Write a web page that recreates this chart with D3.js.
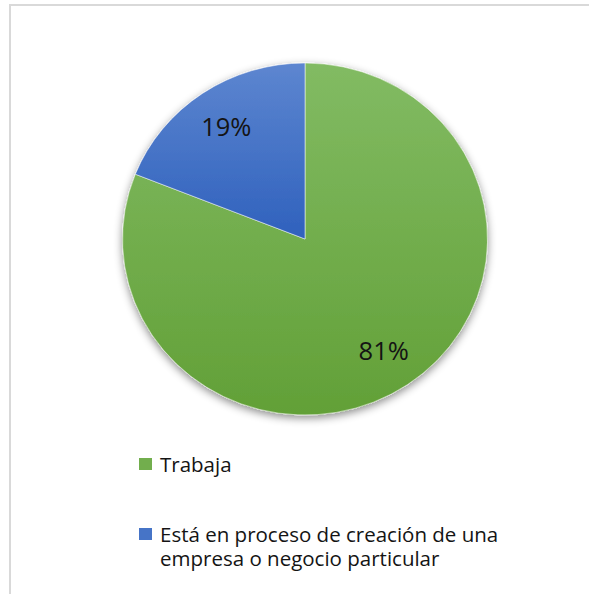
<!DOCTYPE html>
<html>
<head>
<meta charset="utf-8">
<script src="https://cdn.jsdelivr.net/npm/d3@7"></script>
<style>
  body { margin: 0; background: #fff; }
  text { font-family: "Open Sans", "DejaVu Sans", sans-serif; fill: #141414; }
</style>
</head>
<body>
<div id="chart"></div>
<script>
// datos del grafico
var categories = ["Trabaja", "Está en proceso de creación de una empresa o negocio particular"];
var values = [81, 19];
var pctLabels = ["81%", "19%"];
var colorTop = ["#82bb63", "#5d86d0"];
var colorBottom = ["#62a037", "#2f61bd"];

var width = 589, height = 594;
var svg = d3.select("#chart").append("svg")
    .attr("width", width)
    .attr("height", height);

// marco gris del area del grafico
svg.append("rect")
    .attr("x", 10).attr("y", 5)
    .attr("width", 700).attr("height", 700)
    .attr("fill", "none")
    .attr("stroke", "#d9d9d9")
    .attr("stroke-width", 2);

var defs = svg.append("defs");

var shadow = defs.append("filter")
    .attr("id", "sombra")
    .attr("x", "-10%").attr("y", "-10%")
    .attr("width", "120%").attr("height", "125%");
shadow.append("feDropShadow")
    .attr("dx", 0).attr("dy", 3)
    .attr("stdDeviation", 4)
    .attr("flood-color", "#000")
    .attr("flood-opacity", 0.45);

values.forEach(function(v, i) {
  var grad = defs.append("linearGradient")
      .attr("id", "grad" + i)
      .attr("x1", 0).attr("y1", 0)
      .attr("x2", 0).attr("y2", 1);
  grad.append("stop").attr("offset", "0%").attr("stop-color", colorTop[i]);
  grad.append("stop").attr("offset", "100%").attr("stop-color", colorBottom[i]);
});

var cx = 305, cy = 239,
    radius = 176,
    sx = 182.5 / 176; // el pastel sale un poco ensanchado

var pie = d3.pie()
    .sort(null)
    .value(function(d) { return d; });

var arcs = pie(values);

var arc = d3.arc()
    .innerRadius(0)
    .outerRadius(radius);

var labelArc = d3.arc()
    .innerRadius(135)
    .outerRadius(135);

var g = svg.append("g")
    .attr("transform", "translate(" + cx + "," + cy + ")");

g.append("g")
    .attr("transform", "scale(" + sx + ",1)")
    .attr("filter", "url(#sombra)")
  .selectAll("path")
    .data(arcs)
  .enter().append("path")
    .attr("d", arc)
    .attr("fill", function(d, i) { return "url(#grad" + i + ")"; })
    .attr("stroke", "#ffffff")
    .attr("stroke-width", 0.5);

g.selectAll("text.pct")
    .data(arcs)
  .enter().append("text")
    .attr("class", "pct")
    .attr("x", function(d) { return labelArc.centroid(d)[0] * sx; })
    .attr("y", function(d) { return labelArc.centroid(d)[1] + 9; })
    .attr("text-anchor", "middle")
    .style("font-size", "25.5px")
    .text(function(d, i) { return pctLabels[i]; });

// leyenda
var legendX = 139, textX = 160, lineH = 24, maxW = 390;
var legendRows = [458, 528];

var legend = svg.selectAll("g.legend")
    .data(categories)
  .enter().append("g")
    .attr("class", "legend");

legend.append("rect")
    .attr("x", legendX)
    .attr("y", function(d, i) { return legendRows[i]; })
    .attr("width", 13).attr("height", 12)
    .attr("fill", function(d, i) { return d3.interpolateRgb(colorTop[i], colorBottom[i])(0.5); });

legend.append("text")
    .attr("y", function(d, i) { return legendRows[i] + 13.5; })
    .style("font-size", "20.5px")
    .each(function(d) {
      var t = d3.select(this),
          words = d.split(" "),
          line = [],
          tspan = t.append("tspan").attr("x", textX).attr("dy", 0);
      words.forEach(function(w) {
        line.push(w);
        tspan.text(line.join(" "));
        if (tspan.node().getComputedTextLength() > maxW && line.length > 1) {
          line.pop();
          tspan.text(line.join(" "));
          line = [w];
          tspan = t.append("tspan").attr("x", textX).attr("dy", lineH).text(w);
        }
      });
    });
</script>
</body>
</html>
